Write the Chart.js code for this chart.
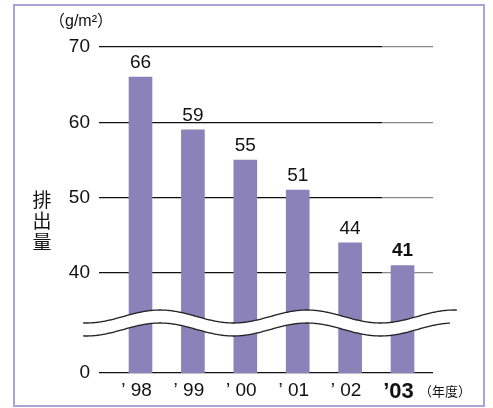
<!DOCTYPE html>
<html lang="ja">
<head>
    <meta charset="UTF-8">
    <title>排出量</title>
    <style>
        html, body { margin: 0; padding: 0; background: #fff; }
        canvas { display: block; }
    </style>
</head>
<body>
    <canvas id="chart" width="493" height="408"></canvas>

    <script src="https://cdn.jsdelivr.net/npm/chart.js"></script>
    <script>
        // data
        const years = ['’ 98', '’ 99', '’ 00', '’ 01', '’ 02', '’03'];
        const values = [66, 59, 55, 51, 44, 41];
        // axis is broken between 0 and 40: the "0" tick sits at BREAK_MIN on the scale
        const BREAK_MIN = 26.73;
        const yTickValues = [BREAK_MIN, 40, 50, 60, 70];
        const yTickLabels = ['0', '40', '50', '60', '70'];

        const FONT = '"Liberation Sans", Arial, sans-serif';
        const BAR_COLOR = '#8a82b9';

        const points = values.map((v, i) => ({ x: i, y: v }));

        function waveY(x, base) {
            return base - 6.5 * Math.cos(2 * Math.PI * (x - 160) / 147);
        }

        const decorPlugin = {
            id: 'decor',
            beforeDraw(chart) {
                const c = chart.ctx;
                c.save();
                c.strokeStyle = '#aaa3d6';
                c.lineWidth = 2;
                c.strokeRect(14, 5, 470, 401);
                c.restore();
            },
            afterDatasetsDraw(chart) {
                const c = chart.ctx;
                const y = chart.scales.y;
                const mid = (y.getPixelForValue(40) + y.getPixelForValue(BREAK_MIN)) / 2;
                const up = mid - 6.5, low = mid + 6.5;
                const x0 = 83, x1 = 457, x2 = 450;

                // white band over the bars
                c.save();
                c.beginPath();
                for (let x = x0; x <= x2; x++) c.lineTo(x, waveY(x, up));
                for (let x = x2; x >= x0; x--) c.lineTo(x, waveY(x, low));
                c.closePath();
                c.fillStyle = '#fff';
                c.fill();

                c.strokeStyle = '#222';
                c.lineWidth = 1.3;
                c.beginPath();
                for (let x = x0; x <= x1; x++) c.lineTo(x, waveY(x, up));
                c.stroke();
                c.beginPath();
                for (let x = x0; x <= x2; x++) c.lineTo(x, waveY(x, low));
                c.stroke();

                // value labels
                const meta = chart.getDatasetMeta(0);
                c.fillStyle = '#111';
                c.textAlign = 'center';
                c.textBaseline = 'bottom';
                meta.data.forEach((bar, i) => {
                    c.font = (i === values.length - 1 ? 'bold ' : '') + '19px ' + FONT;
                    c.fillText(String(values[i]), bar.x, bar.y - 5);
                });

                // unit and axis titles
                c.textAlign = 'left';
                c.textBaseline = 'middle';
                c.font = '16px ' + FONT + ', "Noto Sans CJK JP"';
                c.fillText('（g/m²）', 49, 22);
                c.font = '13px "Noto Sans CJK JP"';
                c.fillText('（年度）', 419, 391);

                c.textAlign = 'center';
                c.font = '19px "Noto Sans CJK JP"';
                ['排', '出', '量'].forEach((ch, i) => c.fillText(ch, 42, 200 + i * 21));
                c.restore();
            }
        };

        let gridGradient = null;

        new Chart(document.getElementById('chart'), {
            type: 'bar',
            data: {
                datasets: [{
                    data: points,
                    backgroundColor: BAR_COLOR,
                    barThickness: 23
                }]
            },
            plugins: [decorPlugin],
            options: {
                responsive: false,
                animation: false,
                layout: { padding: { top: 47, right: 60, left: 0, bottom: 0 } },
                plugins: {
                    legend: { display: false },
                    tooltip: { enabled: false }
                },
                scales: {
                    x: {
                        type: 'linear',
                        offset: false,
                        min: -0.792,
                        max: 5.582,
                        afterBuildTicks: s => { s.ticks = years.map((_, i) => ({ value: i })); },
                        afterFit: s => { s.height = 35; },
                        grid: { display: false },
                        border: { display: false },
                        ticks: {
                            autoSkip: false,
                            maxRotation: 0,
                            padding: -2,
                            labelOffset: -4,
                            color: '#111',
                            callback: v => years[v],
                            font: ctx => ctx.index === years.length - 1
                                ? { family: FONT, size: 22, weight: 'bold' }
                                : { family: FONT, size: 19 }
                        }
                    },
                    y: {
                        min: BREAK_MIN,
                        max: 70,
                        afterBuildTicks: s => { s.ticks = yTickValues.map(v => ({ value: v })); },
                        afterFit: s => { s.width = 99; },
                        border: { display: false },
                        grid: {
                            drawTicks: false,
                            lineWidth: 1.2,
                            color: ctx => {
                                const area = ctx.chart.chartArea;
                                if (!area) return '#111';
                                if (!gridGradient) {
                                    gridGradient = ctx.chart.ctx.createLinearGradient(area.left, 0, area.right, 0);
                                    gridGradient.addColorStop(0, '#111');
                                    gridGradient.addColorStop(0.847, '#111');
                                    gridGradient.addColorStop(0.848, '#888');
                                    gridGradient.addColorStop(1, '#888');
                                }
                                return ctx.index === 0 ? '#111' : gridGradient;
                            }
                        },
                        ticks: {
                            padding: 9,
                            color: '#111',
                            font: { family: FONT, size: 19 },
                            callback: (v, i) => yTickLabels[i]
                        }
                    }
                }
            }
        });
    </script>
</body>
</html>
